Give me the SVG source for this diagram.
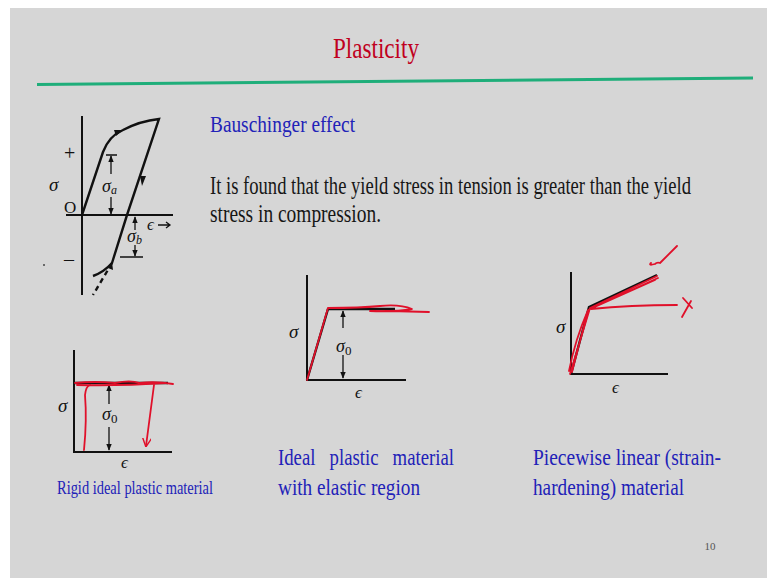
<svg xmlns="http://www.w3.org/2000/svg" width="767" height="578" viewBox="0 0 767 578">
<defs>
<marker id="ah" viewBox="0 0 10 10" refX="9" refY="5" markerWidth="7" markerHeight="7" orient="auto-start-reverse" markerUnits="userSpaceOnUse"><path d="M0,1 L10,5 L0,9 Z" fill="#111"/></marker>
<marker id="ahr" viewBox="0 0 10 10" refX="9" refY="5" markerWidth="9" markerHeight="9" orient="auto" markerUnits="userSpaceOnUse"><path d="M0,0 L10,5 L0,10" fill="none" stroke="#e0102a" stroke-width="1.6"/></marker>
<style>
.bg{fill:#d6d6d6}
.ax{stroke:#111;stroke-width:2;fill:none}
.cv{stroke:#111;stroke-width:2.4;fill:none}
.dim{stroke:#111;stroke-width:1.3;fill:none}
.red{stroke:#e0102a;stroke-width:1.8;fill:none;stroke-linecap:round;stroke-linejoin:round}
.t{font-family:"Liberation Serif","DejaVu Serif",serif}
.blue{fill:#2222b8}
.blk{fill:#161616}
.sym{font-family:"Liberation Serif","DejaVu Serif",serif;font-style:italic;fill:#111}
</style>
</defs>
<rect class="bg" x="10" y="8" width="757" height="570"/>
<g id="header">
<text class="t" x="376" y="58" font-size="29" fill="#c00020" text-anchor="middle" textLength="86" lengthAdjust="spacingAndGlyphs">Plasticity</text>
<path d="M37,84.5 L753,78" stroke="#1fae7a" stroke-width="3"/>
</g>
<g id="text">
<text class="t blue" x="210" y="132" font-size="24" textLength="145" lengthAdjust="spacingAndGlyphs">Bauschinger effect</text>
<g transform="translate(210,0) scale(0.72,1)">
<text class="t blk" x="0" y="194" font-size="25" textLength="668" lengthAdjust="spacingAndGlyphs">It is found that the yield stress in tension is greater than the yield</text>
<text class="t blk" x="0" y="222" font-size="25" textLength="237.5" lengthAdjust="spacingAndGlyphs">stress in compression.</text>
</g>
<text class="t blue" x="57" y="494" font-size="18" textLength="156" lengthAdjust="spacingAndGlyphs">Rigid ideal plastic material</text>
<text class="t blue" x="278" y="465" font-size="24" textLength="176" lengthAdjust="spacingAndGlyphs" xml:space="preserve">Ideal   plastic   material</text>
<text class="t blue" x="278" y="495" font-size="24" textLength="142" lengthAdjust="spacingAndGlyphs">with elastic region</text>
<text class="t blue" x="533" y="465" font-size="24" textLength="188" lengthAdjust="spacingAndGlyphs">Piecewise linear (strain-</text>
<text class="t blue" x="533" y="495" font-size="24" textLength="151" lengthAdjust="spacingAndGlyphs">hardening) material</text>
<text class="t" x="710" y="550" font-size="11" fill="#555" text-anchor="middle">10</text>
<circle cx="44" cy="265" r="1" fill="#444"/>
</g>
<g id="bauschinger">
<path class="ax" d="M82,116 V295 M66,215 H173"/>
<path class="cv" d="M82,215 L103,152 Q109,136 123,130 Q140,121 159,119 L127,215 L112,263 Q104,272 93,276"/>
<path class="cv" d="M112,263 L93,295" stroke-dasharray="5,4"/>
<path d="M116,136 L123,130 L114,130 Z" fill="#111"/>
<path d="M140,176 L142,186 L146,176 Z" fill="#111"/>
<path d="M108,268 L112,262 L113,270 Z" fill="#111"/>
<path class="dim" d="M106,155 H117 M120,257 H143"/>
<path class="dim" d="M111,174 V156" marker-end="url(#ah)"/>
<path class="dim" d="M111,197 V214" marker-end="url(#ah)"/>
<path class="dim" d="M135,230 V217" marker-end="url(#ah)"/>
<path class="dim" d="M135,245 V256" marker-end="url(#ah)"/>
<text class="t" x="64" y="160" font-size="20" fill="#111">+</text>
<text class="t" x="64" y="266" font-size="20" fill="#111">–</text>
<text class="sym" x="49" y="191" font-size="19">σ</text>
<text class="t" x="64" y="213" font-size="17" fill="#111">O</text>
<text class="sym" x="102" y="192" font-size="18">σ<tspan font-size="12" dy="2">a</tspan></text>
<text class="sym" x="127" y="242" font-size="18">σ<tspan font-size="12" dy="2">b</tspan></text>
<text class="sym" x="147" y="230" font-size="17">ϵ</text>
<path class="dim" d="M158,225 H170 M166,222 L170,225 L166,228" stroke-width="1.5"/>
</g>
<g id="rigid">
<path class="ax" d="M74,350 V452 H172"/>
<path class="cv" d="M74,383 H168"/>
<path class="dim" d="M109,404 V385" marker-end="url(#ah)"/>
<path class="dim" d="M109,427 V450" marker-end="url(#ah)"/>
<text class="sym" x="58" y="412" font-size="19">σ</text>
<text class="sym" x="102" y="420" font-size="18">σ<tspan font-style="normal" font-size="13" dy="3">0</tspan></text>
<text class="sym" x="121" y="468" font-size="17">ϵ</text>
<path class="red" d="M75,383 Q95,381 115,383 Q130,380 140,383 Q155,381 173,384 M77,385 Q120,386 165,383"/>
<path class="red" d="M84,450 Q87,420 85,395 Q86,386 90,385"/>
<path class="red" d="M154,385 Q150,415 146,446" marker-end="url(#ahr)"/>
</g>
<g id="ideal">
<path class="ax" d="M307,275 V380 H406"/>
<path class="cv" d="M307,380 L328,309 H395"/>
<path class="dim" d="M343,328 V311" marker-end="url(#ah)"/>
<path class="dim" d="M343,355 V378" marker-end="url(#ah)"/>
<text class="sym" x="289" y="338" font-size="19">σ</text>
<text class="sym" x="336" y="352" font-size="18">σ<tspan font-style="normal" font-size="13" dy="3">0</tspan></text>
<text class="sym" x="355" y="398" font-size="17">ϵ</text>
<path class="red" d="M307,380 L328,308 Q360,308 380,306 Q400,304 412,309 Q395,312 370,311 Q400,311 429,312"/>
</g>
<g id="piecewise">
<path class="ax" d="M571,272 V374 H668"/>
<path class="cv" d="M571,374 L589,307 L657,275"/>
<text class="sym" x="556" y="333" font-size="19">σ</text>
<text class="sym" x="612" y="393" font-size="17">ϵ</text>
<path class="red" d="M570,374 L590,308 L657,276 M572,372 L588,310 L658,278 M569,371 Q575,340 588,310 L655,280 M591,309 Q630,305 677,305"/>
<path class="red" d="M683,298 L692,308 M691,301 L682,317"/>
<path class="red" d="M651,263 Q648,266 655,264 Q657,262 660,263 L677,246"/>
</g>
</svg>
